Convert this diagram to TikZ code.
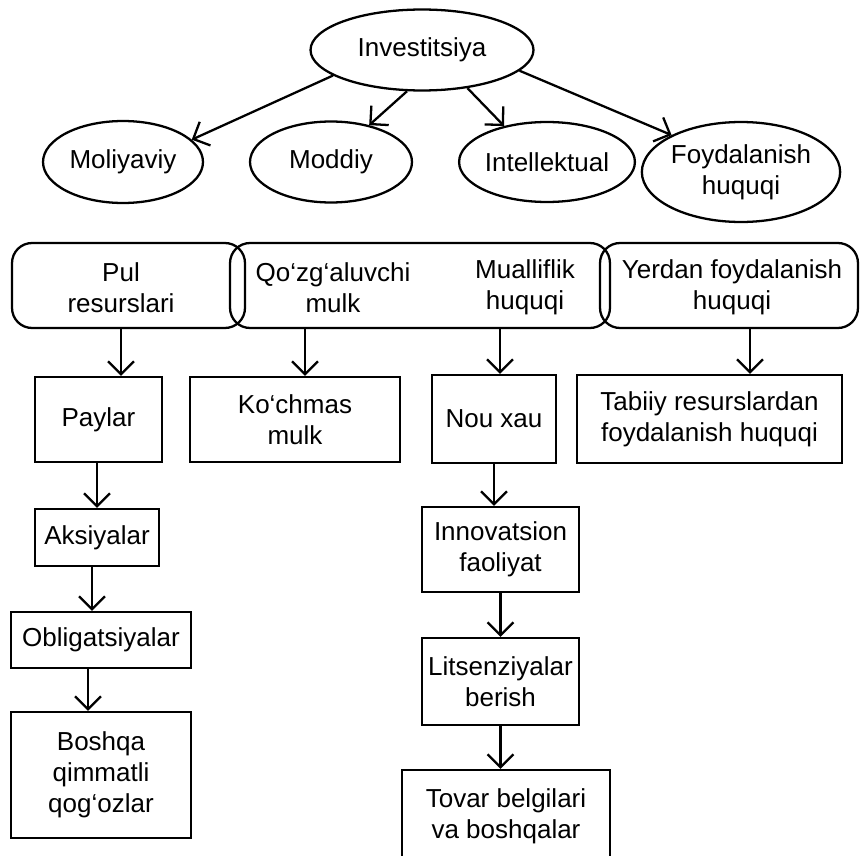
\documentclass[tikz,border=0pt]{standalone}
\usepackage{fontspec}
\setmainfont{Liberation Sans}
\usetikzlibrary{shapes.geometric,arrows.meta}

\begin{document}
\begin{tikzpicture}[x=0.02cm, y=-0.02cm, line width=1.3pt,
  every node/.style={font=\fontsize{14.8}{17.6}\selectfont, align=center, inner sep=0pt},
  oval/.style={ellipse, draw},
  rbox/.style={draw, rounded corners=0.4cm, minimum height=1.7cm},
  box/.style={draw, rectangle},
  arr/.style={-{Straight Barb[length=0.26cm, width=0.52cm]}}]
\useasboundingbox (0,0) rectangle (861,855);

% top level
\node[oval, minimum width=4.46cm, minimum height=1.62cm] (inv) at (422,50) {Investitsiya};
\node[oval, minimum width=3.2cm, minimum height=1.64cm] (mol) at (123,162) {Moliyaviy};
\node[oval, minimum width=3.24cm, minimum height=1.62cm] (mod) at (331,162) {Moddiy};
\node[oval, minimum width=3.18cm, minimum height=1.6cm] (int) at (547,162) {Intellektual};
\node[oval, minimum width=3.66cm, minimum height=2cm] (foy) at (741,172) {Foydalanish\\huquqi};

\draw[arr] (inv.196) -- (mol.18);
\draw[arr] (inv.250) -- (mod.44);
\draw[arr] (inv.320) -- (int.140);
\draw[arr] (inv.348) -- (foy.152);

% rounded row
\node[rbox, minimum width=4.66cm] (pulbox) at (128.5,285.5) {};
\node[rbox, minimum width=7.6cm] (midbox) at (420,285.5) {};
\node[rbox, minimum width=5.16cm] (yerbox) at (729,285.5) {};
\node (pul) at (121,287.5) {Pul\\resurslari};
\node (qoz) at (333,287.5) {Qo‘zg‘aluvchi\\mulk};
\node (mua) at (525,287.5) {Mualliflik\\huquqi};
\node (yer) at (732,287.5) {Yerdan foydalanish\\huquqi};

% second row
\node[box, minimum width=2.54cm, minimum height=1.7cm] (pay) at (98.5,419.5) {Paylar};
\node[box, minimum width=4.2cm, minimum height=1.7cm] (koc) at (295,419.5) {Ko‘chmas\\mulk};
\node[box, minimum width=2.48cm, minimum height=1.76cm] (nou) at (494,419) {Nou xau};
\node[box, minimum width=5.3cm, minimum height=1.76cm] (tab) at (709.5,419) {Tabiiy resurslardan\\foydalanish huquqi};

\draw[arr] (pul |- pulbox.south) -- (pul |- pay.north);
\draw[arr] ([xshift=0.2cm]koc.north |- midbox.south) -- ([xshift=0.2cm]koc.north);
\draw[arr] ([xshift=0.12cm]nou.north |- midbox.south) -- ([xshift=0.12cm]nou.north);
\draw[arr] ([xshift=0.81cm]tab.north |- yerbox.south) -- ([xshift=0.81cm]tab.north);

% left chain
\node[box, minimum width=2.48cm, minimum height=1.14cm] (aks) at (97,537.5) {Aksiyalar};
\node[box, minimum width=3.6cm, minimum height=1.12cm] (obl) at (101,640) {Obligatsiyalar};
\node[box, minimum width=3.6cm, minimum height=2.52cm] (bos) at (101,775) {Boshqa\\qimmatli\\qog‘ozlar};

\draw[arr] (pay.south -| aks) -- (aks.north);
\draw[arr] ([xshift=-0.1cm]aks.south) -- ([xshift=-0.1cm]aks.south |- obl.north);
\draw[arr] ([xshift=-0.26cm]obl.south) -- ([xshift=-0.26cm]obl.south |- bos.north);

% right chain
\node[box, minimum width=3.14cm, minimum height=1.7cm] (inn) at (500.5,549.5) {Innovatsion\\faoliyat};
\node[box, minimum width=3.14cm, minimum height=1.74cm] (lit) at (500.5,681.5) {Litsenziyalar\\berish};
\node[box, minimum width=4.16cm, minimum height=1.84cm] (tov) at (506,816) {Tovar belgilari\\va boshqalar};

\draw[arr] (nou.south) -- (nou.south |- inn.north);
\draw[arr] (inn.south) -- (lit.north);
\draw[arr] (lit.south) -- (lit.south |- tov.north);

\end{tikzpicture}
\end{document}
